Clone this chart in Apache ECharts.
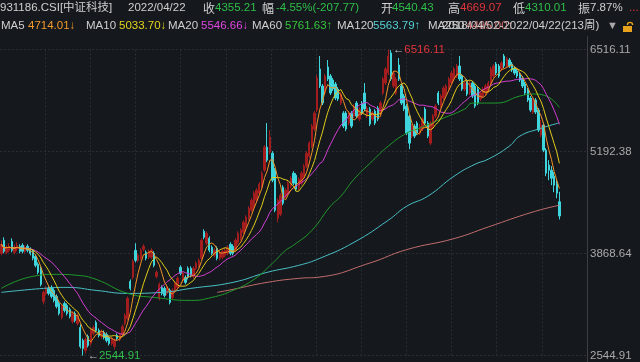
<!DOCTYPE html>
<html><head><meta charset="utf-8">
<script src="https://cdn.jsdelivr.net/npm/echarts@6/dist/echarts.min.js"></script>
<style>html,body{margin:0;padding:0;background:#15181d;}#c{width:640px;height:362px;}</style>
</head><body><div id="c"></div>
<script>
// ---- data (weekly candles, 213 weeks ending 2022/04/22) ----
const openP = [
3871,4040,3884,3910,4027,3884,3923,3962,3975,3897,
3962,3923,3897,3832,3728,3676,3247,3351,3416,3429,
3390,3312,3221,3039,3221,3195,3143,2987,3091,2961,
2909,2740,2610,2792,2701,2831,2974,2870,2792,2844,
2818,2779,2701,2662,2805,2753,2818,2961,3026,3507,
3559,3910,3780,3806,3923,3884,3819,3819,3871,3572,
3286,3429,3416,3351,3390,3299,3390,3429,3689,3520,
3559,3676,3676,3572,3676,3715,3806,4157,4001,4066,
3949,3845,3936,3806,3819,3845,3871,3988,3962,3910,
4014,4066,4144,4209,4326,4430,4469,4560,4651,4729,
4950,5249,5184,5171,4950,4326,4378,4729,4612,4651,
4742,4911,4885,4716,4781,4872,5002,5132,5262,5483,
5730,6263,6042,5951,6289,6172,6120,6068,6003,5821,
5691,5691,5561,5691,5652,5821,5613,5821,5951,5652,
5743,5613,5717,5756,5691,5951,6081,6211,6471,6042,
5951,6315,6042,5912,5782,5652,5392,5522,5561,5431,
5483,5743,5561,5301,5522,5652,5951,5782,5886,5938,
6003,6081,6133,6172,6302,6172,6003,6107,5951,6081,
6042,6003,5873,5912,5951,5977,6081,6172,6328,6302,
6263,6432,6302,6380,6328,6276,6237,6198,6146,6068,
5990,5886,5704,5860,5730,5405,5535,5210,5015,4950,
4872,4781,4540.43];
const closeP = [
3988,3897,3949,3962,3910,3949,3975,3897,3897,3949,
3910,3871,3806,3715,3624,3468,3364,3416,3351,3312,
3260,3182,3091,3182,3130,3091,3052,3091,3000,3065,
2662,2636,2753,2675,2883,2909,2870,2805,2857,2779,
2740,2701,2766,2740,2766,2818,2922,3065,3286,3416,
3767,3780,3845,3910,3962,3806,3897,3910,3715,3624,
3468,3351,3325,3429,3234,3390,3481,3546,3611,3611,
3494,3559,3585,3676,3741,3780,4040,4079,4131,3910,
3871,3910,3806,3884,3897,3910,3949,3871,3871,4040,
4131,4170,4274,4339,4456,4560,4651,4690,4768,4911,
5249,5080,5379,4820,4430,4560,4625,4521,4690,4781,
4846,4781,4703,4833,4911,5002,5171,5301,5522,5691,
6146,6042,5821,6172,6133,5951,6003,5886,5873,5938,
5522,5483,5691,5522,5782,5652,5743,5691,5743,5756,
5548,5691,5561,5613,5821,6133,6263,6432,6133,6211,
6133,6133,5821,5743,5431,5301,5522,5392,5431,5522,
5613,5561,5392,5561,5652,5782,5821,5912,6016,6042,
6133,6211,6263,6302,6133,6003,6081,5938,6081,5912,
5782,5821,5951,6003,6042,6081,6263,6302,6211,6172,
6341,6302,6393,6302,6250,6211,6172,6120,6042,5951,
5860,5730,5860,5704,5470,5535,5210,4911,4950,4846,
4755,4651,4355.21];
const highP = [
4040,4079,3975,4001,4066,3988,4014,3988,4001,3975,
3988,3949,3923,3858,3754,3702,3390,3442,3442,3455,
3416,3338,3247,3208,3247,3221,3169,3117,3117,3091,
2948,2766,2779,2818,2909,2935,3000,2896,2883,2870,
2844,2805,2792,2766,2831,2844,2948,3091,3312,3533,
3793,4001,3871,3936,3988,3910,3923,3936,3897,3650,
3494,3455,3442,3455,3416,3416,3507,3572,3715,3637,
3585,3702,3702,3702,3767,3806,4066,4183,4157,4092,
3975,3936,3962,3910,3923,3936,3975,4014,3988,4066,
4157,4196,4300,4365,4482,4586,4677,4716,4794,4937,
5275,5561,5470,5197,4976,4586,4651,4755,4716,4807,
4872,4937,4911,4859,4937,5028,5197,5327,5548,5717,
6185,6432,6068,6198,6380,6198,6146,6094,6029,5964,
5717,5717,5717,5717,5808,5847,5769,5847,6081,5782,
5769,5717,5743,5782,5847,6159,6289,6516.11,6510,6237,
6159,6406,6068,5938,5808,5678,5548,5548,5587,5548,
5639,5769,5587,5587,5678,5808,5977,5938,6042,6068,
6159,6237,6289,6328,6432,6198,6107,6133,6107,6107,
6068,6029,5977,6029,6068,6107,6289,6328,6354,6328,
6367,6458,6419,6406,6354,6302,6263,6224,6172,6094,
6016,5912,5886,5886,5756,5600,5561,5236,5080,5002,
4924,4820,4669.07];
const lowP = [
3845,3871,3858,3884,3884,3858,3897,3871,3871,3871,
3884,3845,3780,3689,3598,3442,3208,3325,3325,3286,
3234,3156,3065,3013,3104,3065,3026,2961,2974,2935,
2636,2544.91,2571,2649,2675,2805,2844,2779,2766,2753,
2714,2675,2675,2623,2740,2727,2792,2935,3000,3390,
3533,3754,3754,3780,3897,3780,3793,3793,3689,3546,
3260,3325,3299,3325,3208,3273,3364,3403,3585,3494,
3468,3533,3559,3546,3650,3689,3780,4053,3975,3884,
3845,3819,3780,3780,3793,3819,3845,3845,3845,3884,
3988,4040,4118,4183,4300,4404,4443,4534,4625,4703,
4924,5054,5158,4794,4404,4274,4352,4495,4586,4625,
4716,4755,4677,4690,4755,4846,4976,5106,5236,5457,
5704,6016,5795,5925,6107,5925,5977,5860,5847,5795,
5496,5457,5535,5496,5626,5626,5587,5665,5717,5626,
5522,5587,5535,5587,5665,5925,6055,6185,6107,6016,
5925,6107,5795,5717,5405,5223,5366,5366,5405,5405,
5457,5535,5366,5275,5496,5626,5795,5756,5860,5912,
5977,6055,6107,6146,6107,5977,5977,5912,5925,5886,
5756,5795,5847,5886,5925,5951,6055,6146,6185,6146,
6237,6276,6276,6276,6224,6185,6146,6094,6016,5925,
5834,5704,5678,5678,5444,5379,5184,4872,4820,4755,
4664,4586,4310.01];
// long moving averages at sample weeks: [weekIndex, value]
const ma60Pts = [[0,3416],[12,3572],[21,3598],[29,3585],[36,3533],[48,3351],[58,3299],[72,3260],[80,3299],[88,3390],[96,3533],[103,3741],[108,3910],[111,3975],[118,4170],[125,4482],[129,4612],[134,4833],[141,5070],[147,5262],[154,5431],[159,5496],[167,5613],[176,5743],[179,5821],[188,5821],[197,5912],[202,5938],[207,5912],[212,5762]];
const ma120Pts = [[0,3364],[16,3416],[25,3429],[36,3390],[48,3351],[61,3364],[72,3416],[88,3494],[101,3624],[113,3715],[121,3806],[134,4014],[147,4300],[154,4482],[162,4612],[172,4872],[180,5028],[185,5093],[193,5262],[197,5392],[204,5483],[212,5564]];
const ma250Pts = [[82,3364],[88,3403],[101,3494],[113,3546],[121,3563],[140,3745],[154,3919],[172,4062],[185,4213],[202,4408],[212,4495]];
const yTickValues = [2544.91, 3868.64, 5192.38, 6516.11];
const lastDate = '2022/04/22';
const padWeeks = 10;

// ---- categories: weekly dates ----
const nBars = closeP.length;
const categories = [];
const endMs = Date.UTC(2022, 3, 22);
for (let i = 0; i < nBars + padWeeks; i++) {
  const d = new Date(endMs + (i - (nBars - 1)) * 7 * 86400000);
  categories.push(d.getUTCFullYear() + '/' + String(d.getUTCMonth() + 1).padStart(2, '0') + '/' + String(d.getUTCDate()).padStart(2, '0'));
}
const candleData = closeP.map((c, i) => [openP[i], c, lowP[i], highP[i]]);
function movingAvg(len) {
  return closeP.map((_, i) => {
    const s = Math.max(0, i - len + 1);
    let sum = 0;
    for (let k = s; k <= i; k++) sum += closeP[k];
    return +(sum / (i - s + 1)).toFixed(2);
  });
}
const hiVal = Math.max(...highP), hiIdx = highP.indexOf(hiVal);
const loVal = Math.min(...lowP), loIdx = lowP.indexOf(loVal);

const UP = '#a31d1f', DOWN = '#3fd5dd';
const CJK = '"Noto Sans CJK SC", sans-serif';
const LAT = '"Liberation Sans", "DejaVu Sans", "Noto Sans CJK SC", sans-serif';
const GRIDC = '#2a2d34';

function txt(x, y, s, color, size) {
  const isCJK = /^[\u4e00-\u9fff]+$/.test(s);
  const font = isCJK ? '12px ' + CJK : (size || 11.5) + 'px ' + LAT;
  return { type: 'text', x: x, y: y, silent: true,
    style: { text: s, fill: color, font: font, verticalAlign: 'middle', align: 'left' } };
}
const W = '#cfcfcf', G = '#2fbf4a', R = '#e2353a';
const header = [
  txt(0, 8, '931186.CSI[中证科技]', W),
  txt(128, 8, lastDate, W),
  txt(203, 8, '收', W), txt(215, 8, '4355.21', G),
  txt(262, 8, '幅', W), txt(276, 8, '-4.55%(-207.77)', G),
  txt(381, 8, '开', W), txt(392, 8, '4540.43', G),
  txt(448, 8, '高', W), txt(460, 8, '4669.07', R),
  txt(513, 8, '低', W), txt(525, 8, '4310.01', G),
  txt(578, 8, '振', W), txt(590, 8, '7.87%', W),
  txt(629, 8, '...', R),
  txt(1, 26, 'MA5', W), txt(28, 26, '4714.01↓', '#f29b2b'),
  txt(86, 26, 'MA10', W), txt(119, 26, '5033.70↓', '#e4d31c'),
  txt(168, 26, 'MA20', W), txt(201, 26, '5546.66↓', '#e046e0'),
  txt(252, 26, 'MA60', W), txt(285, 26, '5761.63↑', '#35c43c'),
  txt(337, 26, 'MA120', W), txt(373, 26, '5563.79↑', '#55d0d4'),
  txt(428, 26, 'MA250', W), txt(466, 26, '4495.00↑', '#d06a6a'),
  txt(442, 26, '2018/04/02-2022/04/22(213周)', W),
  txt(607, 26, '▼', '#a8a8a8', 11),
  { type: 'rect', shape: { x: 623, y: 26, width: 9, height: 6 }, style: { fill: '#e9a21c' }, silent: true },
  { type: 'arc', shape: { cx: 630, cy: 25, r: 2.6, startAngle: Math.PI, endAngle: 2 * Math.PI }, style: { stroke: '#e9a21c', lineWidth: 1.4, fill: null }, silent: true },
  { type: 'line', shape: { x1: 587.5, y1: 36, x2: 587.5, y2: 362 }, style: { stroke: '#3b3e45', lineWidth: 1 }, silent: true }
];

function maLine(name, data, color, smooth) {
  return { name: name, type: 'line', data: data, showSymbol: false, symbol: 'none', smooth: smooth,
    connectNulls: true, lineStyle: { color: color, width: 1 }, itemStyle: { color: color }, z: 3, silent: true, animation: false };
}

const chart = echarts.init(document.getElementById('c'), null, { renderer: 'canvas' });
chart.setOption({
  backgroundColor: '#15181d',
  animation: false,
  grid: { left: 0, right: 53, top: 49.5, bottom: 6.5, containLabel: false },
  xAxis: [
    { type: 'category', data: categories, boundaryGap: true,
      axisLine: { show: false }, axisTick: { show: false }, axisLabel: { show: false }, splitLine: { show: false } },
    { type: 'value', min: 0, max: 13, interval: 1, position: 'top',
      axisLine: { show: false }, axisTick: { show: false }, axisLabel: { show: false },
      splitLine: { show: true, showMinLine: false, showMaxLine: false, lineStyle: { color: GRIDC, type: [2, 2], width: 1 } } }
  ],
  yAxis: {
    type: 'value', position: 'right', scale: true,
    min: yTickValues[0], max: yTickValues[3], interval: (yTickValues[3] - yTickValues[0]) / 3,
    axisLine: { show: false }, axisTick: { show: false },
    axisLabel: { color: '#a9a9a9', fontSize: 11.5, fontFamily: LAT, margin: 3, formatter: v => v.toFixed(2) },
    splitLine: { show: true, lineStyle: { color: GRIDC, type: [2, 2], width: 1 } }
  },
  series: [
    maLine('MA250', ma250Pts, '#c26d6d', true),
    maLine('MA120', ma120Pts, '#49c0c6', true),
    maLine('MA60', ma60Pts, '#1f9a2b', true),
    { name: 'K', type: 'candlestick', data: candleData, barWidth: '72%', z: 2, silent: true,
      itemStyle: { color: UP, color0: DOWN, borderColor: UP, borderColor0: DOWN, borderWidth: 1 },
      markPoint: {
        symbol: 'circle', symbolSize: 1, itemStyle: { color: 'rgba(0,0,0,0)' }, silent: true,
        data: [
          { coord: [hiIdx, hiVal], label: { show: true, position: 'right', distance: 4, formatter: '{a|←}{b|' + hiVal.toFixed(2) + '}',
              rich: { a: { color: '#bdbdbd', fontSize: 11.5, fontFamily: LAT }, b: { color: R, fontSize: 11.5, fontFamily: LAT } } } },
          { coord: [loIdx, loVal], label: { show: true, position: 'right', distance: 4, formatter: '{a|←}{b|' + loVal.toFixed(2) + '}',
              rich: { a: { color: '#bdbdbd', fontSize: 11.5, fontFamily: LAT }, b: { color: G, fontSize: 11.5, fontFamily: LAT } } } }
        ]
      }
    },
    maLine('MA20', movingAvg(20), '#d23fd2', false),
    maLine('MA10', movingAvg(10), '#e0cc1a', false),
    maLine('MA5', movingAvg(5), '#ef9226', false)
  ],
  graphic: header
});
</script></body></html>
